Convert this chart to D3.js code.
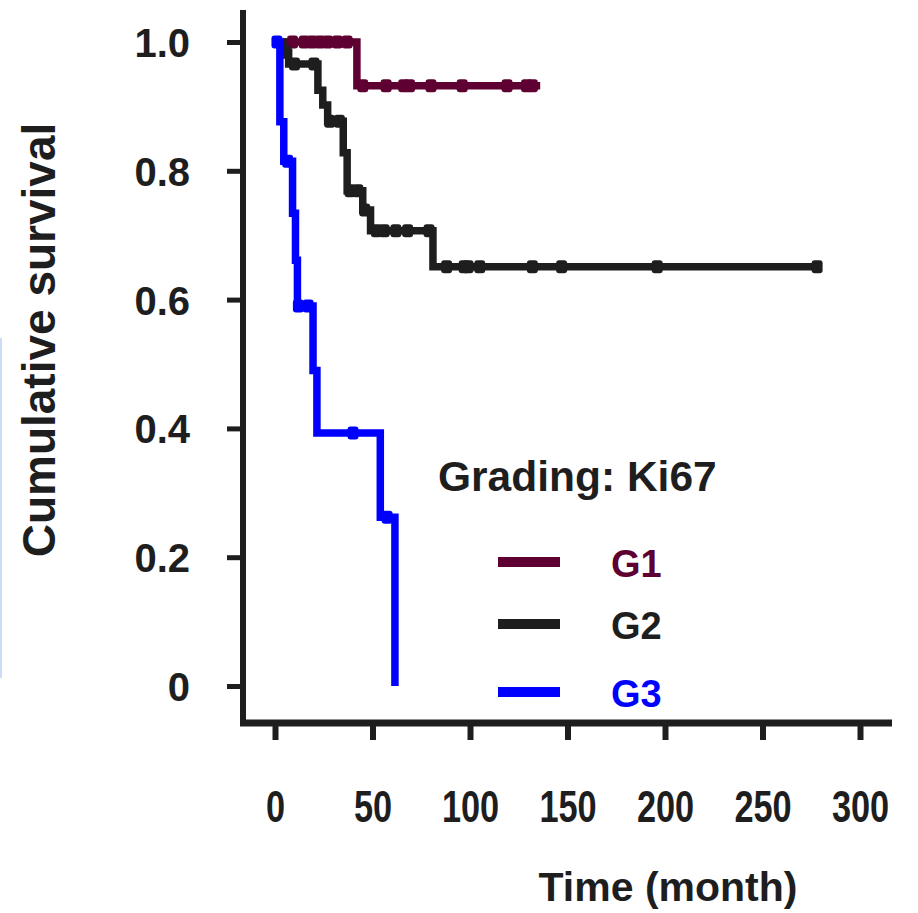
<!DOCTYPE html>
<html>
<head>
<meta charset="utf-8">
<title>Cumulative survival by grading</title>
<script src="https://cdn.jsdelivr.net/npm/d3@7"></script>
<style>
  body { margin:0; background:#fff; }
  svg text { font-family:"Liberation Sans", Arial, sans-serif; font-weight:bold; }
</style>
</head>
<body>
<svg id="chart"></svg>
<script>
// groups and colours
var groups = ["G1", "G2", "G3"];
var colours = ["#5e0031", "#1e1e1e", "#0000ff"];

// step points: [time, survival after the step]
var g1Steps = [[0, 1.0], [42, 0.932], [136, 0.932]];
var g2Steps = [[0, 1.0], [4, 0.984], [7, 0.966], [22, 0.925], [24.5, 0.902], [27, 0.877],
               [35, 0.828], [37, 0.769], [45, 0.739], [49, 0.707], [81, 0.651], [280, 0.651]];
var g3Steps = [[0, 1.0], [2.5, 0.876], [4.5, 0.815], [9, 0.734], [10.5, 0.661], [11.5, 0.59],
               [19.5, 0.49], [21.5, 0.393], [54, 0.262], [61.5, 0]];

// censored times
var g1Censor = [9, 15, 19, 23, 27, 32, 37, 45, 57, 66, 69, 80, 96, 119, 129, 132];
var g2Censor = [5.5, 10, 20, 28, 33, 38.5, 42.5, 46, 52, 56, 62, 68, 79, 88, 97, 99, 105, 132, 147, 196, 278];
var g3Censor = [1, 6.5, 12, 17, 40, 57.5];

var xTicks = [0, 50, 100, 150, 200, 250, 300];
var yTicks = [0, 0.2, 0.4, 0.6, 0.8, 1.0];

var width = 918, height = 913;
var svg = d3.select("#chart").attr("width", width).attr("height", height);

var x = d3.scaleLinear().domain([0, 300]).range([275, 860]);
var y = d3.scaleLinear().domain([0, 1]).range([686, 42]);

// faint strip at the left edge
svg.append("rect").attr("x", 0).attr("y", 338).attr("width", 2).attr("height", 340).attr("fill", "#c9def5");

// axis frame lines
svg.append("line").attr("x1", 243).attr("x2", 243).attr("y1", 10).attr("y2", 726)
  .attr("stroke", "#1e1e1e").attr("stroke-width", 6);
svg.append("line").attr("x1", 240).attr("x2", 892).attr("y1", 723).attr("y2", 723)
  .attr("stroke", "#1e1e1e").attr("stroke-width", 7);

// y axis
var yAxis = svg.append("g").attr("transform", "translate(243,0)")
  .call(d3.axisLeft(y).tickValues(yTicks).tickSize(16).tickPadding(37)
    .tickFormat(function(d){ return d === 0 ? "0" : d3.format(".1f")(d); }));
yAxis.select(".domain").remove();
yAxis.selectAll(".tick line").attr("stroke", "#1e1e1e").attr("stroke-width", 5);
yAxis.selectAll(".tick text").attr("fill", "#1e1e1e").style("font-size", "40px").attr("dy", "0.36em");

// x axis
var xAxis = svg.append("g").attr("transform", "translate(0,723)")
  .call(d3.axisBottom(x).tickValues(xTicks).tickSize(17).tickFormat(d3.format("d")));
xAxis.select(".domain").remove();
xAxis.selectAll(".tick line").attr("stroke", "#1e1e1e").attr("stroke-width", 6);
xAxis.selectAll(".tick text").attr("fill", "#1e1e1e").style("font-size", "44px")
  .attr("y", 0).attr("dy", 0)
  .attr("transform", "translate(0,99) scale(0.78,1)");

// axis titles
svg.append("text").attr("x", 668).attr("y", 901).attr("text-anchor", "middle")
  .attr("fill", "#1e1e1e").style("font-size", "41px").text("Time (month)");
svg.append("text").attr("transform", "translate(55,340) rotate(-90)").attr("text-anchor", "middle")
  .attr("fill", "#1e1e1e").style("font-size", "46px").text("Cumulative survival");

// survival curves
var steps = [g1Steps, g2Steps, g3Steps];
var censors = [g1Censor, g2Censor, g3Censor];
var line = d3.line().x(function(d){ return x(d[0]); }).y(function(d){ return y(d[1]); })
  .curve(d3.curveStepAfter);

function survAt(st, t) {
  var s = st[0][1];
  for (var i = 0; i < st.length; i++) { if (st[i][0] <= t) s = st[i][1]; }
  return s;
}

for (var g = 0; g < groups.length; g++) {
  svg.append("path").attr("d", line(steps[g])).attr("fill", "none")
    .attr("stroke", colours[g]).attr("stroke-width", 7.5);
  svg.selectAll(".cens" + g).data(censors[g]).enter().append("rect")
    .attr("class", "cens" + g)
    .attr("x", function(d){ return x(d) - 5.5; })
    .attr("y", function(d){ return y(survAt(steps[g], d)) - 6.5; })
    .attr("width", 11).attr("height", 13).attr("rx", 3)
    .attr("fill", colours[g]);
}

// legend
svg.append("text").attr("x", 438).attr("y", 491).attr("fill", "#1e1e1e")
  .style("font-size", "42.5px").text("Grading: Ki67");
var legY = [562, 624, 692];
groups.forEach(function(name, i) {
  svg.append("line").attr("x1", 498).attr("x2", 560).attr("y1", legY[i]).attr("y2", legY[i])
    .attr("stroke", colours[i]).attr("stroke-width", 10);
  svg.append("text").attr("x", 611).attr("y", legY[i] + 15).attr("fill", colours[i])
    .style("font-size", "38px").text(name);
});
</script>
</body>
</html>
